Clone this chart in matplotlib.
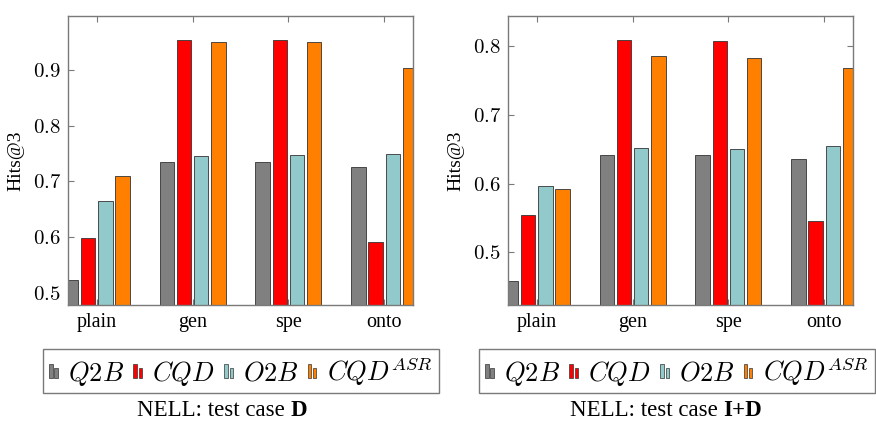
import matplotlib
matplotlib.use("Agg")
import matplotlib.pyplot as plt
import numpy as np
from matplotlib.legend_handler import HandlerBase
from matplotlib.patches import Rectangle

categories = ["plain", "gen", "spe", "onto"]
methods = [r"$Q2B$", r"$CQD$", r"$O2B$", r"$CQD^{ASR}$"]
colors = ["#808080", "#ff0000", "#92c9cb", "#ff8000"]

# NELL: test case D
d_q2b = [0.522, 0.735, 0.735, 0.726]
d_cqd = [0.599, 0.954, 0.954, 0.592]
d_o2b = [0.665, 0.745, 0.747, 0.750]
d_asr = [0.709, 0.950, 0.950, 0.903]

# NELL: test case I+D
id_q2b = [0.458, 0.642, 0.641, 0.636]
id_cqd = [0.555, 0.809, 0.808, 0.546]
id_o2b = [0.596, 0.652, 0.651, 0.655]
id_asr = [0.592, 0.786, 0.783, 0.769]

plt.rcParams["mathtext.fontset"] = "cm"
plt.rcParams["font.family"] = ["Liberation Serif", "DejaVu Serif"]

FRAME = "#7a7a7a"
W, H = 876, 423


class TwoBars(HandlerBase):
    # pgfplots-like ybar legend image: two small bars
    def create_artists(self, legend, orig_handle, xdescent, ydescent,
                       width, height, fontsize, trans):
        bw = width * 0.4
        out = []
        for i, h in enumerate([height, height * 0.75]):
            x0 = -xdescent + i * (bw + width * 0.2)
            out.append(Rectangle((x0, -ydescent), bw, h,
                                 facecolor=orig_handle.get_facecolor(),
                                 edgecolor="#333333", linewidth=0.5,
                                 transform=trans))
        return out


def caption(fig, cx, cy, normal, bold):
    t1 = fig.text(0, cy, normal, ha="left", va="baseline", fontsize=16.5)
    t2 = fig.text(0, cy, bold, ha="left", va="baseline", fontsize=16.5,
                  fontweight="bold")
    r = fig.canvas.get_renderer()
    w1 = t1.get_window_extent(r).width / W
    w2 = t2.get_window_extent(r).width / W
    x0 = cx - (w1 + w2) / 2
    t1.set_x(x0)
    t2.set_x(x0 + w1)


def panel(fig, rect, series, ylim, yticks, leg_x):
    ax = fig.add_axes(rect)
    x = np.arange(len(categories))
    step, bw = 0.18, 0.15
    handles = []
    for i, vals in enumerate(series):
        b = ax.bar(x + (i - 1.5) * step, vals, bw, color=colors[i],
                   edgecolor="#333333", linewidth=0.6, zorder=2)
        handles.append(b.patches[0])
    ax.set_xlim(-0.3, 3.3)
    ax.set_ylim(*ylim)
    ax.set_xticks(x)
    ax.set_xticklabels(categories, fontsize=14.5)
    ax.set_yticks(yticks)
    ax.set_yticklabels([f"${v:.1f}$" for v in yticks], fontsize=15)
    ax.tick_params(direction="in", top=True, right=True, color=FRAME,
                   length=4, width=0.8)
    ax.tick_params(axis="x", pad=6)
    ax.tick_params(axis="y", pad=5)
    for s in ax.spines.values():
        s.set_color(FRAME)
        s.set_linewidth(1.0)
    ax.set_ylabel("Hits@3", fontsize=14, labelpad=6)
    leg = fig.legend(handles, methods, loc="center", ncol=4,
                     bbox_to_anchor=(leg_x, 1 - 371 / H),
                     fontsize=19, handler_map={Rectangle: TwoBars()},
                     handlelength=0.32, handleheight=0.4, handletextpad=0.4,
                     columnspacing=0.35, borderpad=0.22, fancybox=False,
                     edgecolor=FRAME, framealpha=1)
    leg.get_frame().set_linewidth(1.0)
    return ax


fig = plt.figure(figsize=(8.76, 4.23), dpi=100)
panel(fig, [68 / W, 1 - 305 / H, 345 / W, 289 / H],
      [d_q2b, d_cqd, d_o2b, d_asr], (0.478, 0.997),
      [0.5, 0.6, 0.7, 0.8, 0.9], 241 / W)
panel(fig, [508 / W, 1 - 305 / H, 345 / W, 289 / H],
      [id_q2b, id_cqd, id_o2b, id_asr], (0.4234, 0.844),
      [0.5, 0.6, 0.7, 0.8], 677 / W)
caption(fig, 222 / W, 1 - 416 / H, "NELL: test case ", "D")
caption(fig, 666 / W, 1 - 416 / H, "NELL: test case ", "I+D")

fig.savefig("out.png", dpi=100)
